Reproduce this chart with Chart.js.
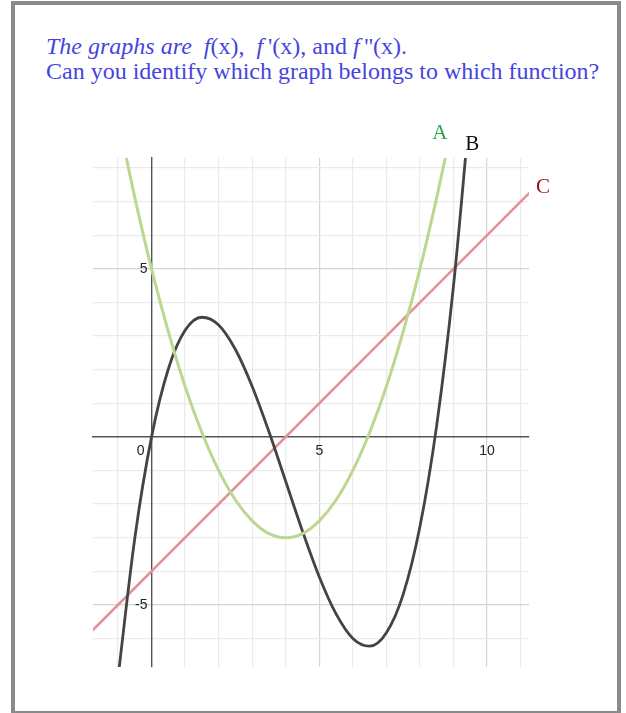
<!DOCTYPE html>
<html>
<head>
<meta charset="utf-8">
<script src="https://cdn.jsdelivr.net/npm/chart.js@4/dist/chart.umd.min.js"></script>
<style>
  body { margin: 0; background: #fff; width: 626px; height: 713px; overflow: hidden; position: relative; }
  #frame { position: absolute; left: 11px; top: 1px; width: 610px; height: 714px; box-sizing: border-box; border: 4px solid #8a8a8a; }
  #question { position: absolute; left: 46px; top: 34px; font-family: "Liberation Serif", "Times New Roman", serif;
              font-size: 24px; line-height: 25px; color: #4545de; white-space: pre; }
  #graph { position: absolute; left: 0; top: 0; }
</style>
</head>
<body>
<div id="frame"></div>
<div id="question"><i>The graphs are</i>  <i>f</i>(x),  <i>f</i>&thinsp;'(x), and <i>f</i>&thinsp;''(x).
Can you identify which graph belongs to which function?</div>
<canvas id="graph" width="626" height="713"></canvas>
<script>
// sample x positions shared by the two curves
const xs = [-1, -0.5, 0, 0.5, 1, 1.5, 2, 2.5, 3, 3.5, 4, 4.5, 5, 5.5, 6, 6.5, 7, 7.5, 8, 8.5, 9, 9.5];
// A: the parabola
const curveA = [9.5, 7.13, 5, 3.13, 1.5, 0.13, -1, -1.88, -2.5, -2.88, -3, -2.88, -2.5, -1.88, -1, 0.13, 1.5, 3.13, 5, 7.13, 9.5, 12.13];
// B: the cubic
const curveB = [-7.17, -3.02, 0, 2.02, 3.17, 3.56, 3.33, 2.6, 1.5, 0.15, -1.33, -2.81, -4.17, -5.27, -6, -6.23, -5.83, -4.69, -2.67, 0.35, 4.5, 9.9];
// C: the straight line
const lineCX = [-2, 12];
const lineCY = [-6, 8];

const xTickLabels = [0, 5, 10];
const yTickLabels = [5, -5];
const curveNames = ['A', 'B', 'C'];

// where each name sits (data units) and its colour
const nameTags = [
  { at: [8.59, 8.87], color: '#2aa64c' },
  { at: [9.56, 8.55], color: '#111111' },
  { at: [11.67, 7.26], color: '#990a1e' }
];

const gridColor = ctx => {
  const v = ctx.tick && ctx.tick.value;
  if (v === 0) return 'rgba(0,0,0,0)';
  return v % 5 === 0 ? '#d4d4d4' : '#ebebeb';
};

const axisText = {
  id: 'axisText',
  afterDraw(chart) {
    const { ctx, scales: { x, y } } = chart;
    const x0 = x.getPixelForValue(0);
    const y0 = y.getPixelForValue(0);
    ctx.save();
    ctx.font = '14px "Liberation Sans", Arial, sans-serif';
    ctx.fillStyle = '#222';
    ctx.textBaseline = 'middle';
    xTickLabels.forEach(v => {
      if (v === 0) {
        ctx.textAlign = 'right';
        ctx.fillText('0', x0 - 7, y0 + 14);
      } else {
        ctx.textAlign = 'center';
        ctx.fillText(String(v), x.getPixelForValue(v), y0 + 14);
      }
    });
    ctx.textAlign = 'right';
    yTickLabels.forEach(v => ctx.fillText(String(v), x0 - 4, y.getPixelForValue(v)));

    ctx.font = '21px "Liberation Serif", "Times New Roman", serif';
    ctx.textAlign = 'center';
    ctx.textBaseline = 'alphabetic';
    curveNames.forEach((n, i) => {
      const t = nameTags[i];
      ctx.fillStyle = t.color;
      ctx.fillText(n, x.getPixelForValue(t.at[0]), y.getPixelForValue(t.at[1]));
    });
    ctx.restore();
  }
};

const pts = (xv, yv) => xv.map((v, i) => ({ x: v, y: yv[i] }));

new Chart(document.getElementById('graph'), {
  type: 'line',
  data: {
    datasets: [
      { label: 'A', data: pts(xs, curveA), borderColor: '#bcd78f', borderWidth: 3, cubicInterpolationMode: 'monotone' },
      { label: 'B', data: pts(xs, curveB), borderColor: '#444444', borderWidth: 2.8, cubicInterpolationMode: 'monotone' },
      { label: 'C', data: pts(lineCX, lineCY), borderColor: '#e39292', borderWidth: 2.6 }
    ]
  },
  options: {
    responsive: false,
    animation: false,
    events: [],
    layout: { padding: { left: 93, top: 158, right: 97, bottom: 46 } },
    elements: { point: { radius: 0 } },
    plugins: { legend: { display: false }, tooltip: { enabled: false } },
    scales: {
      x: {
        type: 'linear',
        position: { y: 0 },
        min: -1.745,
        max: 11.25,
        ticks: { stepSize: 1, includeBounds: false, display: false },
        grid: { color: gridColor, lineWidth: 1.2, drawTicks: false },
        border: { color: '#555', width: 1.4 }
      },
      y: {
        type: 'linear',
        position: { x: 0 },
        min: -6.85,
        max: 8.3,
        ticks: { stepSize: 1, includeBounds: false, display: false },
        grid: { color: gridColor, lineWidth: 1.2, drawTicks: false },
        border: { color: '#555', width: 1.4 }
      }
    }
  },
  plugins: [axisText]
});
</script>
</body>
</html>
